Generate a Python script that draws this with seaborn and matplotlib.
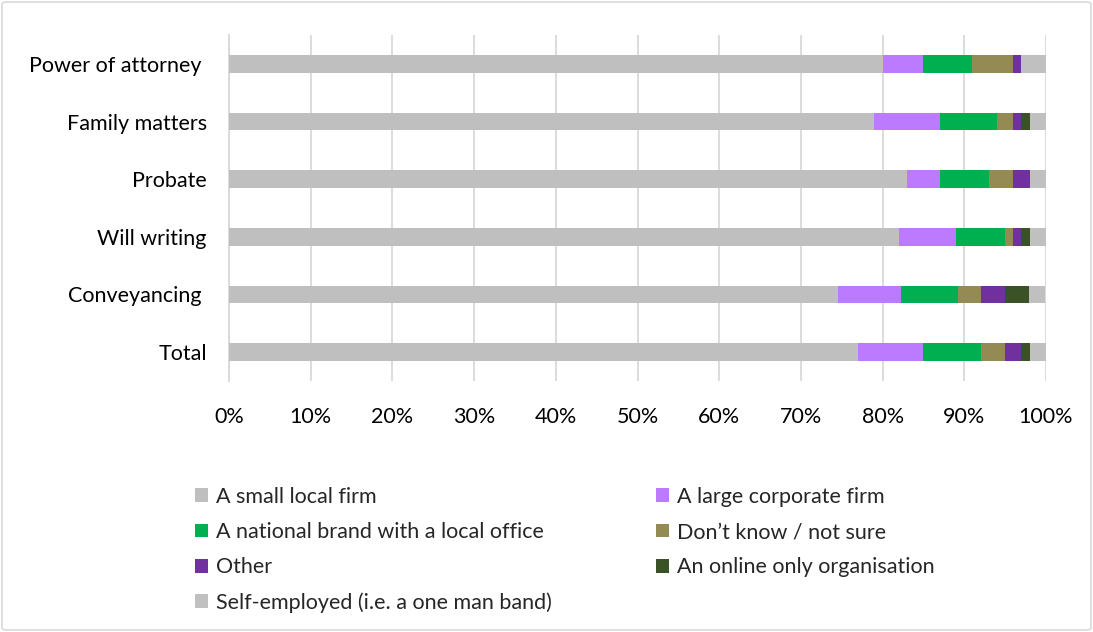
import matplotlib
matplotlib.use("Agg")
import matplotlib.pyplot as plt
from matplotlib.patches import FancyBboxPatch, Patch
from matplotlib.ticker import PercentFormatter
import numpy as np
import pandas as pd
import seaborn as sns

# Services (top to bottom) and the share of respondents for each provider type (%)
services = ["Power of attorney ", "Family matters", "Probate", "Will writing",
            "Conveyancing ", "Total"]
small_local_firm = [80, 79, 83, 82, 74.5, 77]
large_corporate_firm = [5, 8, 4, 7, 7.8, 8]
national_brand = [6, 7, 6, 6, 6.9, 7]
dont_know = [5, 2, 3, 1, 2.9, 3]
other = [1, 1, 2, 1, 2.9, 2]
online_only = [0, 1, 0, 1, 2.9, 1]
self_employed = [3, 2, 2, 2, 2.0, 2]

series_names = ["A small local firm", "A large corporate firm",
                "A national brand with a local office", "Don\u2019t know / not sure",
                "Other", "An online only organisation",
                "Self-employed (i.e. a one man band)"]
series_values = [small_local_firm, large_corporate_firm, national_brand, dont_know,
                 other, online_only, self_employed]
colors = ["#BFBFBF", "#BB7AFF", "#00B050", "#948A54", "#7030A0", "#3B5227", "#C0C0C0"]

sns.set_theme(style="white")
plt.rcParams["font.family"] = ["Lato", "DejaVu Sans"]

FS = 15.5

fig = plt.figure(figsize=(10.93, 6.32), dpi=100)
ax = fig.add_axes([229 / 1093, 1 - 381 / 632, (1046 - 229) / 1093, (381 - 35) / 632])

# Stack by drawing cumulative totals from the longest to the shortest
cumulative = np.cumsum(np.array(series_values), axis=0)
for name, cum, color in reversed(list(zip(series_names, cumulative, colors))):
    df = pd.DataFrame({"service": services, "value": cum})
    sns.barplot(data=df, x="value", y="service", order=services, color=color,
                width=0.31, linewidth=0, saturation=1, ax=ax, zorder=3)

ax.set_xlim(0, 100)
ax.set_xticks(np.arange(0, 101, 10))
ax.xaxis.set_major_formatter(PercentFormatter(decimals=0))
ax.grid(axis="x", color="#D9D9D9", linewidth=1.3, zorder=0)
ax.set_xlabel("")
ax.set_ylabel("")
for side in ["top", "right", "bottom"]:
    ax.spines[side].set_visible(False)
ax.spines["left"].set_color("#D9D9D9")
ax.spines["left"].set_linewidth(1.3)
ax.tick_params(axis="y", length=0, pad=16, labelsize=FS, labelcolor="#000000")
ax.tick_params(axis="x", length=0, pad=19, labelsize=FS, labelcolor="#000000")

# Legend laid out in two columns below the chart
handles = [Patch(facecolor=c, edgecolor="none") for c in colors]
left_idx = [0, 2, 4, 6]
right_idx = [1, 3, 5]
legend_kw = dict(frameon=False, fontsize=FS, handlelength=0.62, handleheight=0.62,
                 handletextpad=0.35, labelspacing=0.7, borderpad=0, borderaxespad=0)
leg1 = fig.legend([handles[i] for i in left_idx], [series_names[i] for i in left_idx],
                  loc="upper left", bbox_to_anchor=(195 / 1093, 1 - 487 / 632), **legend_kw)
leg2 = fig.legend([handles[i] for i in right_idx], [series_names[i] for i in right_idx],
                  loc="upper left", bbox_to_anchor=(656 / 1093, 1 - 487 / 632), **legend_kw)

# Chart frame
frame = FancyBboxPatch((2 / 1093, 2 / 632), 1 - 4 / 1093, 1 - 4 / 632,
                       boxstyle="round,pad=0,rounding_size=0.004",
                       transform=fig.transFigure, facecolor="none",
                       edgecolor="#D9D9D9", linewidth=1.2)
fig.patches.append(frame)

fig.savefig("out.png", dpi=100)
